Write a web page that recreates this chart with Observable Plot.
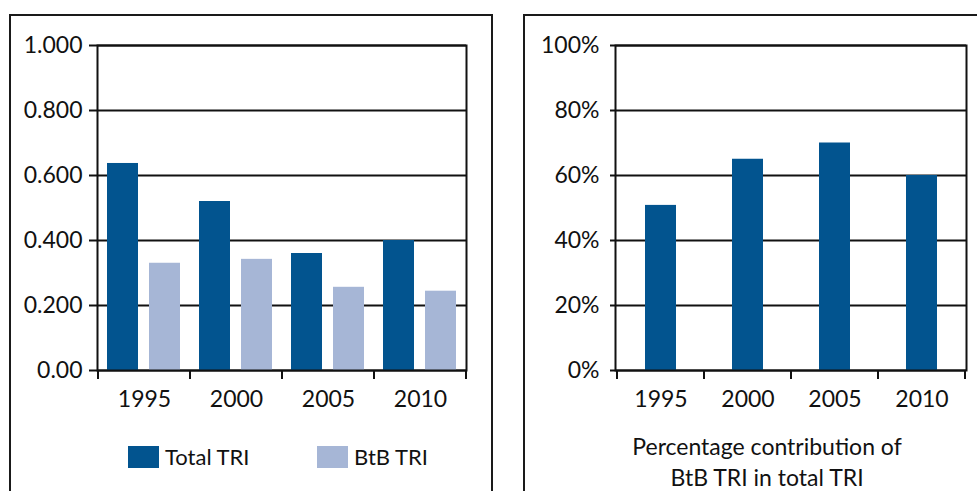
<!DOCTYPE html>
<html><head><meta charset="utf-8">
<script src="https://cdn.jsdelivr.net/npm/d3@7"></script>
<script src="https://cdn.jsdelivr.net/npm/@observablehq/plot@0.6"></script>
<style>
body{margin:0;background:#fff;}
#wrap{position:relative;width:977px;height:491px;overflow:hidden;font-family:Lato, "Open Sans", sans-serif;color:#111;background:#fff;}
.frame{position:absolute;border:2px solid #1a1a1a;box-sizing:border-box;}
.plotbox{position:absolute;top:0;}
.sw{position:absolute;width:31px;height:22px;}
.lt{position:absolute;font-size:22px;line-height:22px;}
.cap{position:absolute;left:567px;width:400px;text-align:center;font-size:23px;line-height:31px;top:431px;}
svg [aria-label^="y-axis"] line, svg [aria-label^="y-axis"] path {stroke-width:2px;}
</style></head>
<body><div id="wrap">
<div class="frame" style="left:9px;top:14px;width:484px;height:600px;"></div>
<div class="frame" style="left:523px;top:14px;width:600px;height:600px;"></div>
<div id="left" class="plotbox" style="left:0px;"></div>
<div id="right" class="plotbox" style="left:500px;"></div>
<div id="legend"></div>
<div class="cap" id="cap"></div>
</div>
<script>
const years = ["1995", "2000", "2005", "2010"];
const seriesNames = ["Total TRI", "BtB TRI"];
const totalTRI = [0.637, 0.52, 0.36, 0.40];
const btbTRI = [0.33, 0.342, 0.256, 0.244];
const btbShare = [0.508, 0.65, 0.70, 0.60];
const leftTicks = [0, 0.2, 0.4, 0.6, 0.8, 1.0];
const leftTickLabels = ["0.00", "0.200", "0.400", "0.600", "0.800", "1.000"];
const rightTicks = [0, 0.2, 0.4, 0.6, 0.8, 1.0];
const rightTickLabels = ["0%", "20%", "40%", "60%", "80%", "100%"];
const captionLines = ["Percentage contribution of", "BtB TRI in total TRI"];
const colors = ["#02548f", "#a6b6d6"];

const font = "Lato, 'Open Sans', sans-serif";

function boundaryTicks(len) {
  return (index, scales, values, dims) => {
    const x = scales.x, y = scales.y;
    const dom = x.domain();
    const bw = x.bandwidth();
    const xs = dom.map(d => x(d)).concat([x(dom[dom.length - 1]) + bw]);
    const y0 = y(0);
    const g = d3.create("svg:g");
    g.selectAll("line").data(xs).join("line")
      .attr("x1", d => d).attr("x2", d => d)
      .attr("y1", y0).attr("y2", y0 + len)
      .attr("stroke", "#111").attr("stroke-width", 2);
    return g.node();
  };
}

const leftRows = years.flatMap((yr, i) => [
  {year: yr, series: seriesNames[0], value: totalTRI[i]},
  {year: yr, series: seriesNames[1], value: btbTRI[i]}
]);

const leftPlot = Plot.plot({
  width: 492, height: 420,
  marginLeft: 97, marginRight: 26, marginTop: 45, marginBottom: 50,
  x: {domain: years, padding: 0, tickSize: 0, tickPadding: 20, label: null},
  y: {domain: [0, 1], ticks: leftTicks, tickFormat: d => leftTickLabels[leftTicks.indexOf(d)], tickSize: 8, tickPadding: 7, label: null},
  style: {fontFamily: font, fontSize: "23px", color: "#111", background: "transparent", overflow: "visible"},
  marks: [
    Plot.ruleY(leftTicks, {stroke: "#111", strokeWidth: 1.8}),
    Plot.barY(leftRows.filter(d => d.series === seriesNames[0]), {x: "year", y: "value", fill: colors[0], insetLeft: 9, insetRight: 52}),
    Plot.barY(leftRows.filter(d => d.series === seriesNames[1]), {x: "year", y: "value", fill: colors[1], insetLeft: 51, insetRight: 10}),
    Plot.frame({stroke: "#111", strokeWidth: 2}),
    boundaryTicks(9)
  ]
});
document.getElementById("left").appendChild(leftPlot);

const rightRows = years.map((yr, i) => ({year: yr, value: btbShare[i]}));
const rightPlot = Plot.plot({
  width: 477, height: 420,
  marginLeft: 115, marginRight: 11, marginTop: 45, marginBottom: 50,
  x: {domain: years, padding: 0, tickSize: 0, tickPadding: 20, label: null},
  y: {domain: [0, 1], ticks: rightTicks, tickFormat: d => rightTickLabels[rightTicks.indexOf(d)], tickSize: 5, tickPadding: 11, label: null},
  style: {fontFamily: font, fontSize: "23px", color: "#111", background: "transparent", overflow: "visible"},
  marks: [
    Plot.ruleY(rightTicks, {stroke: "#111", strokeWidth: 1.8}),
    Plot.barY(rightRows, {x: "year", y: "value", fill: colors[0], insetLeft: 28, insetRight: 28}),
    Plot.frame({stroke: "#111", strokeWidth: 2}),
    boundaryTicks(9)
  ]
});
document.getElementById("right").appendChild(rightPlot);

// legend
const legend = document.getElementById("legend");
const swLeft = [128, 317];
seriesNames.forEach((name, i) => {
  const sw = document.createElement("div");
  sw.className = "sw";
  sw.style.left = swLeft[i] + "px";
  sw.style.top = "446px";
  sw.style.background = colors[i];
  legend.appendChild(sw);
  const t = document.createElement("div");
  t.className = "lt";
  t.style.left = (swLeft[i] + 37) + "px";
  t.style.top = "446px";
  t.textContent = name;
  legend.appendChild(t);
});

document.getElementById("cap").innerHTML = captionLines.join("<br>");
</script>
</body></html>
